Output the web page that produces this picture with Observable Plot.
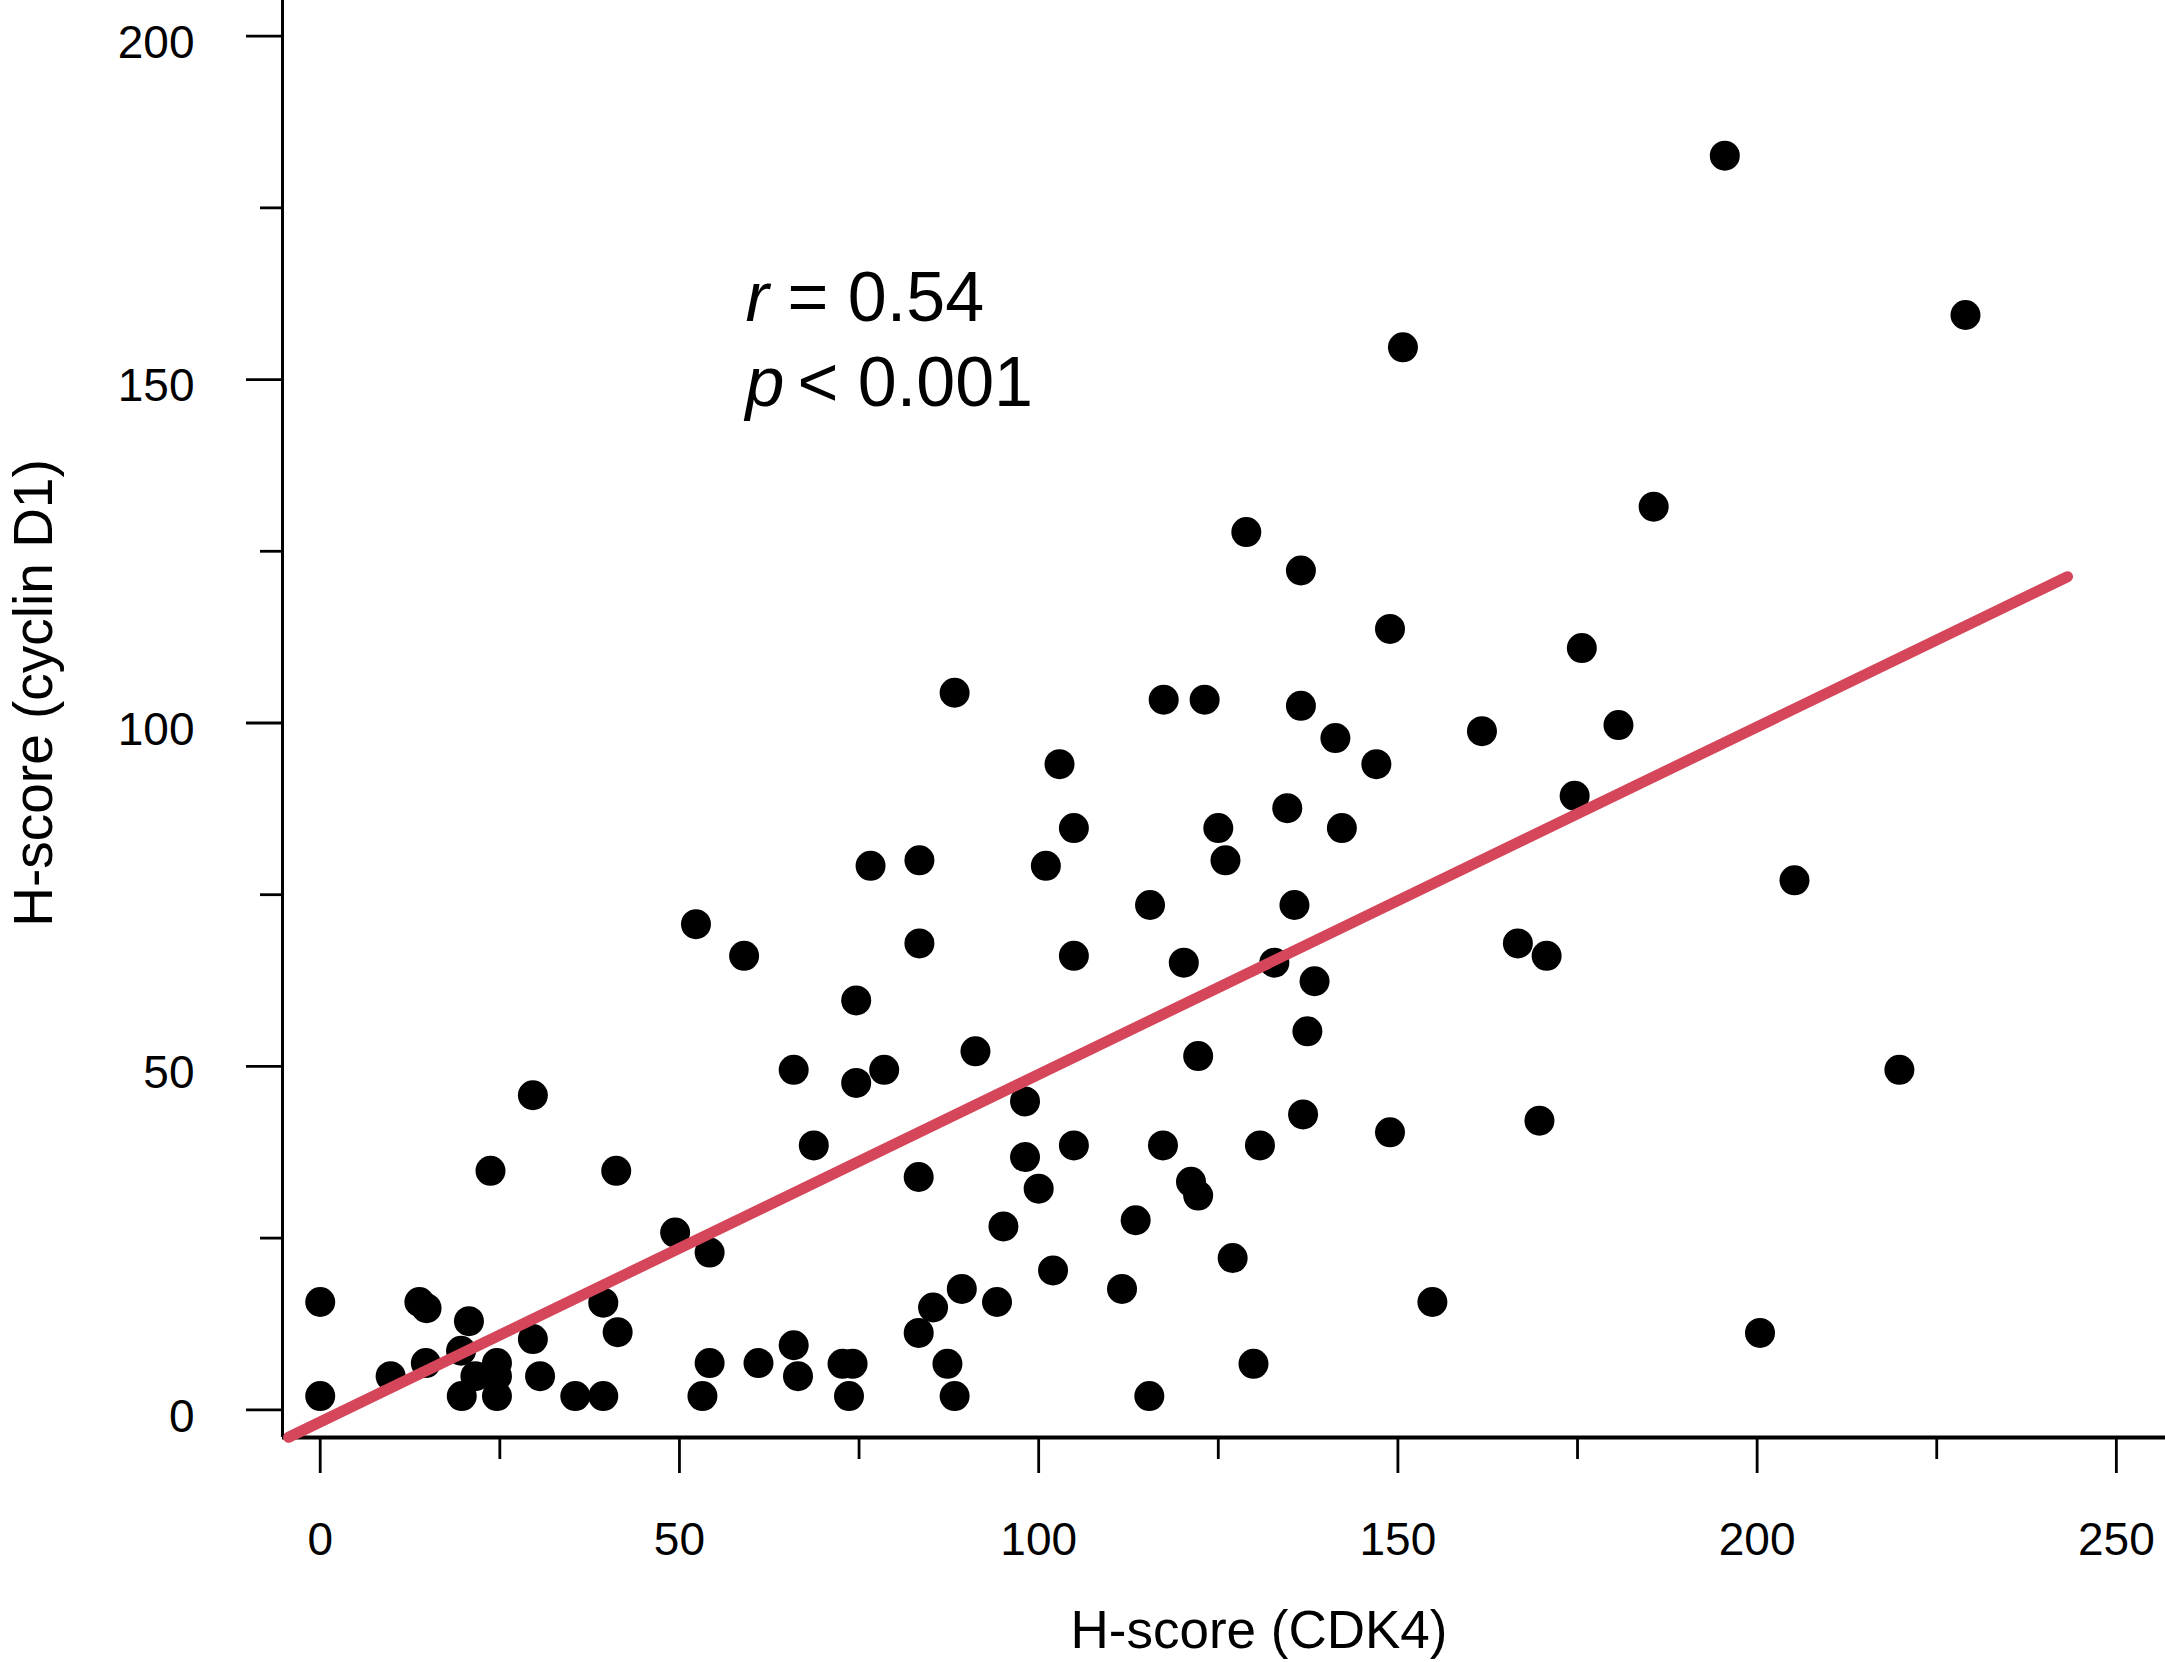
<!DOCTYPE html>
<html>
<head>
<meta charset="utf-8">
<script src="https://cdn.jsdelivr.net/npm/d3@7"></script>
<script src="https://cdn.jsdelivr.net/npm/@observablehq/plot@0.6"></script>
<style>
  html, body { margin: 0; padding: 0; background: #fff; }
  svg { display: block; }
</style>
</head>
<body>
<div id="chart"></div>
<script>
// H-score (CDK4) for each case
const cdk4 = [
  0, 0, 9.8, 13.8, 14.8, 14.7, 19.6, 20.7, 19.7, 21.6,
  24.6, 24.6, 24.6, 23.7, 29.6, 29.6, 30.6, 35.5, 39.4, 39.4,
  41.4, 41.2, 49.4, 52.3, 53.2, 54.2, 54.2, 59.0, 61.0, 65.9,
  65.9, 66.5, 68.7, 72.7, 74.1, 73.6, 74.6, 74.6, 76.6, 78.5,
  83.4, 83.4, 83.3, 83.3, 85.3, 87.3, 88.3, 88.3, 89.3, 91.2,
  94.2, 95.1, 98.1, 98.1, 100.0, 101.0, 102.0, 102.9, 104.9, 104.9,
  104.9, 111.6, 113.5, 115.4, 115.5, 117.3, 117.4, 120.2, 121.2, 122.2,
  122.2, 123.1, 125.0, 126.0, 127.0, 128.9, 129.9, 130.8, 132.8, 134.6,
  135.6, 136.5, 136.5, 136.8, 137.4, 138.4, 141.3, 142.2, 147.0, 148.9,
  148.9, 150.7, 154.8, 161.7, 166.7, 169.7, 170.7, 174.6, 175.6, 180.7,
  185.6, 195.5, 200.4, 205.2, 219.8, 229.0
];
// H-score (cyclin D1) for the same cases
const cyclinD1 = [
  15.7, 2.0, 4.9, 15.7, 14.8, 6.8, 8.6, 12.9, 2.0, 4.9,
  6.8, 4.9, 2.0, 34.8, 45.8, 10.3, 4.9, 2.0, 2.0, 15.6,
  11.3, 34.8, 25.8, 70.7, 2.0, 22.9, 6.8, 66.1, 6.8, 49.5,
  9.4, 4.9, 38.5, 6.7, 6.7, 2.0, 59.6, 47.6, 79.2, 49.5,
  80.0, 67.9, 33.9, 11.2, 14.9, 6.7, 2.0, 104.4, 17.6, 52.2,
  15.7, 26.7, 44.9, 36.8, 32.2, 79.2, 20.3, 94.0, 84.7, 66.1,
  38.5, 17.6, 27.6, 2.0, 73.5, 38.5, 103.4, 65.1, 33.2, 51.5,
  31.2, 103.4, 84.7, 80.0, 22.1, 127.8, 6.7, 38.5, 65.1, 87.6,
  73.5, 122.2, 102.5, 43.0, 55.1, 62.4, 97.8, 84.7, 94.0, 113.7,
  40.4, 154.7, 15.7, 98.8, 67.9, 42.1, 66.1, 89.4, 110.9, 99.7,
  131.5, 182.6, 11.2, 77.1, 49.5, 159.4
];

const xMajorTicks = [0, 50, 100, 150, 200, 250];
const xMinorTicks = [25, 75, 125, 175, 225];
const yMajorTicks = [0, 50, 100, 150, 200];
const yMinorTicks = [25, 75, 125, 175];
const xDomain = [-5.25, 256.84];
const yDomain = [-4.03, 205.19];

// regression line end points (as drawn)
const fitX = [-4.4, 243.2];
const fitY = [-4.0, 121.3];

const xTitle = "H-score (CDK4)";
const yTitle = "H-score (cyclin D1)";
const statNames = ["r", "p"];
const statValues = ["= 0.54", "< 0.001"];

const points = cdk4.map((x, i) => ({x, y: cyclinD1[i]}));
const fit = fitX.map((x, i) => ({x, y: fitY[i]}));
const font = "'Liberation Sans', Arial, Helvetica, sans-serif";
const none = () => "";

const chart = Plot.plot({
  width: 2165,
  height: 1662,
  marginLeft: 282,
  marginRight: 0,
  marginTop: 0,
  marginBottom: 225,
  style: {fontFamily: font, background: "#fff", color: "#000"},
  x: {domain: xDomain},
  y: {domain: yDomain},
  marks: [
    // x axis: major ticks with labels, minor ticks without
    Plot.axisX({ticks: xMajorTicks, tickSize: 36, tickPadding: 49, fontSize: 46, strokeWidth: 2.8, label: null, tickFormat: d => String(d)}),
    Plot.axisX({ticks: xMinorTicks, tickSize: 22, strokeWidth: 2.8, label: null, tickFormat: none}),
    // y axis: tick marks, then labels set slightly lower as in the original
    Plot.axisY({ticks: yMajorTicks, tickSize: 36, strokeWidth: 2.8, label: null, tickFormat: none}),
    Plot.axisY({ticks: yMinorTicks, tickSize: 22, strokeWidth: 2.8, label: null, tickFormat: none}),
    Plot.axisY({ticks: yMajorTicks, tickSize: 0, tickPadding: 88, dy: 7, fontSize: 46, label: null, tickFormat: d => String(d)}),
    // L-shaped frame
    Plot.ruleX([xDomain[0]], {stroke: "#000", strokeWidth: 3}),
    Plot.ruleY([yDomain[0]], {stroke: "#000", strokeWidth: 4}),
    Plot.dot(points, {x: "x", y: "y", r: 15, fill: "#000"}),
    Plot.line(fit, {x: "x", y: "y", stroke: "#d5465a", strokeWidth: 11}),
    Plot.text([xTitle], {text: d => d, frameAnchor: "bottom", dx: 35, dy: 210, lineAnchor: "bottom", textAnchor: "middle", fontSize: 53, fill: "#000"}),
    Plot.text([yTitle], {text: d => d, frameAnchor: "left", dx: -248, dy: -26, rotate: -90, lineAnchor: "middle", textAnchor: "middle", fontSize: 55, fill: "#000"}),
    Plot.text([statNames[0]], {text: d => d, frameAnchor: "top-left", dx: 463, dy: 320, lineAnchor: "bottom", textAnchor: "start", fontSize: 70, fontStyle: "italic", fill: "#000"}),
    Plot.text([statValues[0]], {text: d => d, frameAnchor: "top-left", dx: 505, dy: 320, lineAnchor: "bottom", textAnchor: "start", fontSize: 70, fill: "#000"}),
    Plot.text([statNames[1]], {text: d => d, frameAnchor: "top-left", dx: 463, dy: 405, lineAnchor: "bottom", textAnchor: "start", fontSize: 70, fontStyle: "italic", fill: "#000"}),
    Plot.text([statValues[1]], {text: d => d, frameAnchor: "top-left", dx: 515, dy: 405, lineAnchor: "bottom", textAnchor: "start", fontSize: 70, fill: "#000"})
  ]
});
document.getElementById("chart").appendChild(chart);
</script>
</body>
</html>
